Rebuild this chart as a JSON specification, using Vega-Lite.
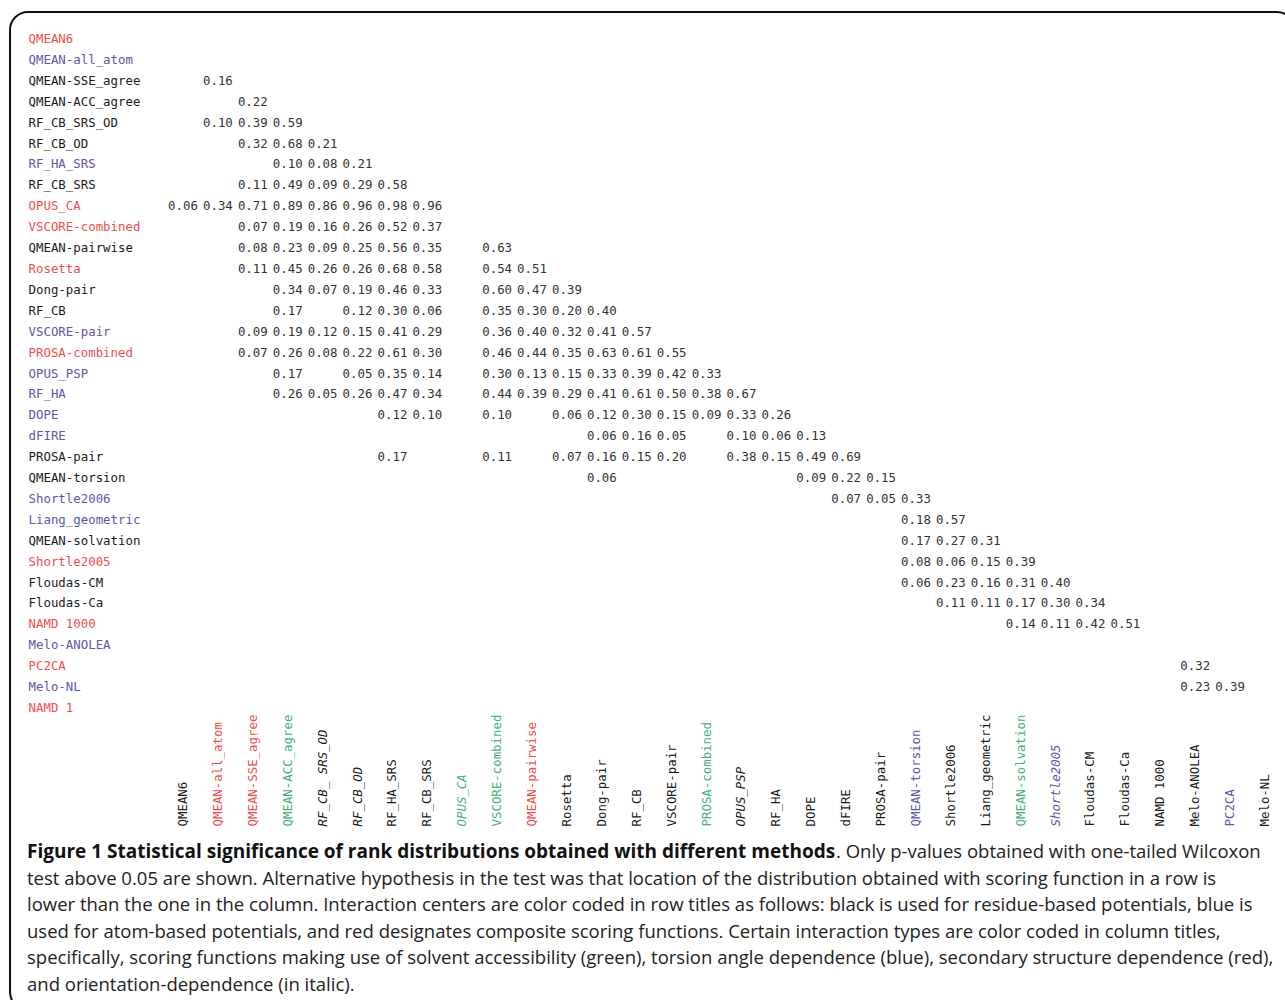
{
  "$schema": "https://vega.github.io/schema/vega-lite/v6.json",
  "width": 1285,
  "height": 998,
  "autosize": {"type": "none"},
  "padding": {"left": 10, "top": 12, "right": -10, "bottom": -10},
  "background": "white",
  "config": {
    "view": {"stroke": "#111111", "strokeWidth": 2, "cornerRadius": 18, "fill": "white"},
    "axis": {"grid": false, "domain": false, "ticks": false, "tickSize": 0}
  },
  "datasets": {
    "pv": [
      {"r": "QMEAN-SSE_agree", "c": "QMEAN-all_atom", "p": 0.16},
      {"r": "QMEAN-ACC_agree", "c": "QMEAN-SSE_agree", "p": 0.22},
      {"r": "RF_CB_SRS_OD", "c": "QMEAN-all_atom", "p": 0.10},
      {"r": "RF_CB_SRS_OD", "c": "QMEAN-SSE_agree", "p": 0.39},
      {"r": "RF_CB_SRS_OD", "c": "QMEAN-ACC_agree", "p": 0.59},
      {"r": "RF_CB_OD", "c": "QMEAN-SSE_agree", "p": 0.32},
      {"r": "RF_CB_OD", "c": "QMEAN-ACC_agree", "p": 0.68},
      {"r": "RF_CB_OD", "c": "RF_CB_SRS_OD", "p": 0.21},
      {"r": "RF_HA_SRS", "c": "QMEAN-ACC_agree", "p": 0.10},
      {"r": "RF_HA_SRS", "c": "RF_CB_SRS_OD", "p": 0.08},
      {"r": "RF_HA_SRS", "c": "RF_CB_OD", "p": 0.21},
      {"r": "RF_CB_SRS", "c": "QMEAN-SSE_agree", "p": 0.11},
      {"r": "RF_CB_SRS", "c": "QMEAN-ACC_agree", "p": 0.49},
      {"r": "RF_CB_SRS", "c": "RF_CB_SRS_OD", "p": 0.09},
      {"r": "RF_CB_SRS", "c": "RF_CB_OD", "p": 0.29},
      {"r": "RF_CB_SRS", "c": "RF_HA_SRS", "p": 0.58},
      {"r": "OPUS_CA", "c": "QMEAN6", "p": 0.06},
      {"r": "OPUS_CA", "c": "QMEAN-all_atom", "p": 0.34},
      {"r": "OPUS_CA", "c": "QMEAN-SSE_agree", "p": 0.71},
      {"r": "OPUS_CA", "c": "QMEAN-ACC_agree", "p": 0.89},
      {"r": "OPUS_CA", "c": "RF_CB_SRS_OD", "p": 0.86},
      {"r": "OPUS_CA", "c": "RF_CB_OD", "p": 0.96},
      {"r": "OPUS_CA", "c": "RF_HA_SRS", "p": 0.98},
      {"r": "OPUS_CA", "c": "RF_CB_SRS", "p": 0.96},
      {"r": "VSCORE-combined", "c": "QMEAN-SSE_agree", "p": 0.07},
      {"r": "VSCORE-combined", "c": "QMEAN-ACC_agree", "p": 0.19},
      {"r": "VSCORE-combined", "c": "RF_CB_SRS_OD", "p": 0.16},
      {"r": "VSCORE-combined", "c": "RF_CB_OD", "p": 0.26},
      {"r": "VSCORE-combined", "c": "RF_HA_SRS", "p": 0.52},
      {"r": "VSCORE-combined", "c": "RF_CB_SRS", "p": 0.37},
      {"r": "QMEAN-pairwise", "c": "QMEAN-SSE_agree", "p": 0.08},
      {"r": "QMEAN-pairwise", "c": "QMEAN-ACC_agree", "p": 0.23},
      {"r": "QMEAN-pairwise", "c": "RF_CB_SRS_OD", "p": 0.09},
      {"r": "QMEAN-pairwise", "c": "RF_CB_OD", "p": 0.25},
      {"r": "QMEAN-pairwise", "c": "RF_HA_SRS", "p": 0.56},
      {"r": "QMEAN-pairwise", "c": "RF_CB_SRS", "p": 0.35},
      {"r": "QMEAN-pairwise", "c": "VSCORE-combined", "p": 0.63},
      {"r": "Rosetta", "c": "QMEAN-SSE_agree", "p": 0.11},
      {"r": "Rosetta", "c": "QMEAN-ACC_agree", "p": 0.45},
      {"r": "Rosetta", "c": "RF_CB_SRS_OD", "p": 0.26},
      {"r": "Rosetta", "c": "RF_CB_OD", "p": 0.26},
      {"r": "Rosetta", "c": "RF_HA_SRS", "p": 0.68},
      {"r": "Rosetta", "c": "RF_CB_SRS", "p": 0.58},
      {"r": "Rosetta", "c": "VSCORE-combined", "p": 0.54},
      {"r": "Rosetta", "c": "QMEAN-pairwise", "p": 0.51},
      {"r": "Dong-pair", "c": "QMEAN-ACC_agree", "p": 0.34},
      {"r": "Dong-pair", "c": "RF_CB_SRS_OD", "p": 0.07},
      {"r": "Dong-pair", "c": "RF_CB_OD", "p": 0.19},
      {"r": "Dong-pair", "c": "RF_HA_SRS", "p": 0.46},
      {"r": "Dong-pair", "c": "RF_CB_SRS", "p": 0.33},
      {"r": "Dong-pair", "c": "VSCORE-combined", "p": 0.60},
      {"r": "Dong-pair", "c": "QMEAN-pairwise", "p": 0.47},
      {"r": "Dong-pair", "c": "Rosetta", "p": 0.39},
      {"r": "RF_CB", "c": "QMEAN-ACC_agree", "p": 0.17},
      {"r": "RF_CB", "c": "RF_CB_OD", "p": 0.12},
      {"r": "RF_CB", "c": "RF_HA_SRS", "p": 0.30},
      {"r": "RF_CB", "c": "RF_CB_SRS", "p": 0.06},
      {"r": "RF_CB", "c": "VSCORE-combined", "p": 0.35},
      {"r": "RF_CB", "c": "QMEAN-pairwise", "p": 0.30},
      {"r": "RF_CB", "c": "Rosetta", "p": 0.20},
      {"r": "RF_CB", "c": "Dong-pair", "p": 0.40},
      {"r": "VSCORE-pair", "c": "QMEAN-SSE_agree", "p": 0.09},
      {"r": "VSCORE-pair", "c": "QMEAN-ACC_agree", "p": 0.19},
      {"r": "VSCORE-pair", "c": "RF_CB_SRS_OD", "p": 0.12},
      {"r": "VSCORE-pair", "c": "RF_CB_OD", "p": 0.15},
      {"r": "VSCORE-pair", "c": "RF_HA_SRS", "p": 0.41},
      {"r": "VSCORE-pair", "c": "RF_CB_SRS", "p": 0.29},
      {"r": "VSCORE-pair", "c": "VSCORE-combined", "p": 0.36},
      {"r": "VSCORE-pair", "c": "QMEAN-pairwise", "p": 0.40},
      {"r": "VSCORE-pair", "c": "Rosetta", "p": 0.32},
      {"r": "VSCORE-pair", "c": "Dong-pair", "p": 0.41},
      {"r": "VSCORE-pair", "c": "RF_CB", "p": 0.57},
      {"r": "PROSA-combined", "c": "QMEAN-SSE_agree", "p": 0.07},
      {"r": "PROSA-combined", "c": "QMEAN-ACC_agree", "p": 0.26},
      {"r": "PROSA-combined", "c": "RF_CB_SRS_OD", "p": 0.08},
      {"r": "PROSA-combined", "c": "RF_CB_OD", "p": 0.22},
      {"r": "PROSA-combined", "c": "RF_HA_SRS", "p": 0.61},
      {"r": "PROSA-combined", "c": "RF_CB_SRS", "p": 0.30},
      {"r": "PROSA-combined", "c": "VSCORE-combined", "p": 0.46},
      {"r": "PROSA-combined", "c": "QMEAN-pairwise", "p": 0.44},
      {"r": "PROSA-combined", "c": "Rosetta", "p": 0.35},
      {"r": "PROSA-combined", "c": "Dong-pair", "p": 0.63},
      {"r": "PROSA-combined", "c": "RF_CB", "p": 0.61},
      {"r": "PROSA-combined", "c": "VSCORE-pair", "p": 0.55},
      {"r": "OPUS_PSP", "c": "QMEAN-ACC_agree", "p": 0.17},
      {"r": "OPUS_PSP", "c": "RF_CB_OD", "p": 0.05},
      {"r": "OPUS_PSP", "c": "RF_HA_SRS", "p": 0.35},
      {"r": "OPUS_PSP", "c": "RF_CB_SRS", "p": 0.14},
      {"r": "OPUS_PSP", "c": "VSCORE-combined", "p": 0.30},
      {"r": "OPUS_PSP", "c": "QMEAN-pairwise", "p": 0.13},
      {"r": "OPUS_PSP", "c": "Rosetta", "p": 0.15},
      {"r": "OPUS_PSP", "c": "Dong-pair", "p": 0.33},
      {"r": "OPUS_PSP", "c": "RF_CB", "p": 0.39},
      {"r": "OPUS_PSP", "c": "VSCORE-pair", "p": 0.42},
      {"r": "OPUS_PSP", "c": "PROSA-combined", "p": 0.33},
      {"r": "RF_HA", "c": "QMEAN-ACC_agree", "p": 0.26},
      {"r": "RF_HA", "c": "RF_CB_SRS_OD", "p": 0.05},
      {"r": "RF_HA", "c": "RF_CB_OD", "p": 0.26},
      {"r": "RF_HA", "c": "RF_HA_SRS", "p": 0.47},
      {"r": "RF_HA", "c": "RF_CB_SRS", "p": 0.34},
      {"r": "RF_HA", "c": "VSCORE-combined", "p": 0.44},
      {"r": "RF_HA", "c": "QMEAN-pairwise", "p": 0.39},
      {"r": "RF_HA", "c": "Rosetta", "p": 0.29},
      {"r": "RF_HA", "c": "Dong-pair", "p": 0.41},
      {"r": "RF_HA", "c": "RF_CB", "p": 0.61},
      {"r": "RF_HA", "c": "VSCORE-pair", "p": 0.50},
      {"r": "RF_HA", "c": "PROSA-combined", "p": 0.38},
      {"r": "RF_HA", "c": "OPUS_PSP", "p": 0.67},
      {"r": "DOPE", "c": "RF_HA_SRS", "p": 0.12},
      {"r": "DOPE", "c": "RF_CB_SRS", "p": 0.10},
      {"r": "DOPE", "c": "VSCORE-combined", "p": 0.10},
      {"r": "DOPE", "c": "Rosetta", "p": 0.06},
      {"r": "DOPE", "c": "Dong-pair", "p": 0.12},
      {"r": "DOPE", "c": "RF_CB", "p": 0.30},
      {"r": "DOPE", "c": "VSCORE-pair", "p": 0.15},
      {"r": "DOPE", "c": "PROSA-combined", "p": 0.09},
      {"r": "DOPE", "c": "OPUS_PSP", "p": 0.33},
      {"r": "DOPE", "c": "RF_HA", "p": 0.26},
      {"r": "dFIRE", "c": "Dong-pair", "p": 0.06},
      {"r": "dFIRE", "c": "RF_CB", "p": 0.16},
      {"r": "dFIRE", "c": "VSCORE-pair", "p": 0.05},
      {"r": "dFIRE", "c": "OPUS_PSP", "p": 0.10},
      {"r": "dFIRE", "c": "RF_HA", "p": 0.06},
      {"r": "dFIRE", "c": "DOPE", "p": 0.13},
      {"r": "PROSA-pair", "c": "RF_HA_SRS", "p": 0.17},
      {"r": "PROSA-pair", "c": "VSCORE-combined", "p": 0.11},
      {"r": "PROSA-pair", "c": "Rosetta", "p": 0.07},
      {"r": "PROSA-pair", "c": "Dong-pair", "p": 0.16},
      {"r": "PROSA-pair", "c": "RF_CB", "p": 0.15},
      {"r": "PROSA-pair", "c": "VSCORE-pair", "p": 0.20},
      {"r": "PROSA-pair", "c": "OPUS_PSP", "p": 0.38},
      {"r": "PROSA-pair", "c": "RF_HA", "p": 0.15},
      {"r": "PROSA-pair", "c": "DOPE", "p": 0.49},
      {"r": "PROSA-pair", "c": "dFIRE", "p": 0.69},
      {"r": "QMEAN-torsion", "c": "Dong-pair", "p": 0.06},
      {"r": "QMEAN-torsion", "c": "DOPE", "p": 0.09},
      {"r": "QMEAN-torsion", "c": "dFIRE", "p": 0.22},
      {"r": "QMEAN-torsion", "c": "PROSA-pair", "p": 0.15},
      {"r": "Shortle2006", "c": "dFIRE", "p": 0.07},
      {"r": "Shortle2006", "c": "PROSA-pair", "p": 0.05},
      {"r": "Shortle2006", "c": "QMEAN-torsion", "p": 0.33},
      {"r": "Liang_geometric", "c": "QMEAN-torsion", "p": 0.18},
      {"r": "Liang_geometric", "c": "Shortle2006", "p": 0.57},
      {"r": "QMEAN-solvation", "c": "QMEAN-torsion", "p": 0.17},
      {"r": "QMEAN-solvation", "c": "Shortle2006", "p": 0.27},
      {"r": "QMEAN-solvation", "c": "Liang_geometric", "p": 0.31},
      {"r": "Shortle2005", "c": "QMEAN-torsion", "p": 0.08},
      {"r": "Shortle2005", "c": "Shortle2006", "p": 0.06},
      {"r": "Shortle2005", "c": "Liang_geometric", "p": 0.15},
      {"r": "Shortle2005", "c": "QMEAN-solvation", "p": 0.39},
      {"r": "Floudas-CM", "c": "QMEAN-torsion", "p": 0.06},
      {"r": "Floudas-CM", "c": "Shortle2006", "p": 0.23},
      {"r": "Floudas-CM", "c": "Liang_geometric", "p": 0.16},
      {"r": "Floudas-CM", "c": "QMEAN-solvation", "p": 0.31},
      {"r": "Floudas-CM", "c": "Shortle2005", "p": 0.40},
      {"r": "Floudas-Ca", "c": "Shortle2006", "p": 0.11},
      {"r": "Floudas-Ca", "c": "Liang_geometric", "p": 0.11},
      {"r": "Floudas-Ca", "c": "QMEAN-solvation", "p": 0.17},
      {"r": "Floudas-Ca", "c": "Shortle2005", "p": 0.30},
      {"r": "Floudas-Ca", "c": "Floudas-CM", "p": 0.34},
      {"r": "NAMD 1000", "c": "QMEAN-solvation", "p": 0.14},
      {"r": "NAMD 1000", "c": "Shortle2005", "p": 0.11},
      {"r": "NAMD 1000", "c": "Floudas-CM", "p": 0.42},
      {"r": "NAMD 1000", "c": "Floudas-Ca", "p": 0.51},
      {"r": "PC2CA", "c": "Melo-ANOLEA", "p": 0.32},
      {"r": "Melo-NL", "c": "Melo-ANOLEA", "p": 0.23},
      {"r": "Melo-NL", "c": "PC2CA", "p": 0.39}
    ],
    "caption": [
      {"line": 1, "part": "bold", "text": "Figure 1 Statistical significance of rank distributions obtained with different methods"},
      {"line": 1, "part": "tail", "text": ". Only p-values obtained with one-tailed Wilcoxon"},
      {"line": 2, "part": "body", "text": "test above 0.05 are shown. Alternative hypothesis in the test was that location of the distribution obtained with scoring function in a row is"},
      {"line": 3, "part": "body", "text": "lower than the one in the column. Interaction centers are color coded in row titles as follows: black is used for residue-based potentials, blue is"},
      {"line": 4, "part": "body", "text": "used for atom-based potentials, and red designates composite scoring functions. Certain interaction types are color coded in column titles,"},
      {"line": 5, "part": "body", "text": "specifically, scoring functions making use of solvent accessibility (green), torsion angle dependence (blue), secondary structure dependence (red),"},
      {"line": 6, "part": "body", "text": "and orientation-dependence (in italic)."}
    ]
  },
  "layer": [
    {
      "data": {"name": "pv"},
      "mark": {"type": "text", "font": "DejaVu Sans Mono", "fontSize": 12.4, "color": "#333333", "baseline": "middle", "align": "center"},
      "encoding": {
        "x": {
          "field": "c", "type": "nominal",
          "scale": {"type": "band", "range": [155.55, 1272.45], "paddingInner": 0, "paddingOuter": 0,
            "domain": ["QMEAN6","QMEAN-all_atom","QMEAN-SSE_agree","QMEAN-ACC_agree","RF_CB_SRS_OD","RF_CB_OD","RF_HA_SRS","RF_CB_SRS","OPUS_CA","VSCORE-combined","QMEAN-pairwise","Rosetta","Dong-pair","RF_CB","VSCORE-pair","PROSA-combined","OPUS_PSP","RF_HA","DOPE","dFIRE","PROSA-pair","QMEAN-torsion","Shortle2006","Liang_geometric","QMEAN-solvation","Shortle2005","Floudas-CM","Floudas-Ca","NAMD 1000","Melo-ANOLEA","PC2CA","Melo-NL"]},
          "axis": {
            "orient": "top", "title": null, "offset": -814, "labelAngle": -90, "labelAlign": "left", "labelBaseline": "middle",
            "labelPadding": 0, "labelFont": "DejaVu Sans Mono", "labelFontSize": 12.4, "labelOverlap": false, "labelLimit": 0,
            "labelExpr": "datum.value == 'RF_CB_SRS_OD' ? 'RF_CB_ SRS_OD' : datum.label",
            "labelColor": {
              "condition": [
                {"test": "indexof(['QMEAN-all_atom','QMEAN-SSE_agree','QMEAN-pairwise'], datum.value) >= 0", "value": "#f04e4a"},
                {"test": "indexof(['QMEAN-ACC_agree','OPUS_CA','VSCORE-combined','PROSA-combined','QMEAN-solvation'], datum.value) >= 0", "value": "#45b083"},
                {"test": "indexof(['QMEAN-torsion','Shortle2005','PC2CA'], datum.value) >= 0", "value": "#5e56b0"}
              ],
              "value": "#1a1a1a"
            },
            "labelFontStyle": {
              "condition": {"test": "indexof(['RF_CB_SRS_OD','RF_CB_OD','OPUS_CA','OPUS_PSP','Shortle2005'], datum.value) >= 0", "value": "italic"},
              "value": "normal"
            }
          }
        },
        "y": {
          "field": "r", "type": "nominal",
          "scale": {"type": "band", "range": [16.55, 706.45], "paddingInner": 0, "paddingOuter": 0,
            "domain": ["QMEAN6","QMEAN-all_atom","QMEAN-SSE_agree","QMEAN-ACC_agree","RF_CB_SRS_OD","RF_CB_OD","RF_HA_SRS","RF_CB_SRS","OPUS_CA","VSCORE-combined","QMEAN-pairwise","Rosetta","Dong-pair","RF_CB","VSCORE-pair","PROSA-combined","OPUS_PSP","RF_HA","DOPE","dFIRE","PROSA-pair","QMEAN-torsion","Shortle2006","Liang_geometric","QMEAN-solvation","Shortle2005","Floudas-CM","Floudas-Ca","NAMD 1000","Melo-ANOLEA","PC2CA","Melo-NL","NAMD 1"]},
          "axis": {
            "orient": "left", "title": null, "offset": -18, "labelAlign": "left", "labelBaseline": "middle", "labelPadding": 0,
            "labelFont": "DejaVu Sans Mono", "labelFontSize": 12.4, "labelOverlap": false, "labelLimit": 0,
            "labelColor": {
              "condition": [
                {"test": "indexof(['QMEAN6','OPUS_CA','VSCORE-combined','Rosetta','PROSA-combined','Shortle2005','NAMD 1000','PC2CA','NAMD 1'], datum.value) >= 0", "value": "#f04e4a"},
                {"test": "indexof(['QMEAN-all_atom','RF_HA_SRS','VSCORE-pair','OPUS_PSP','RF_HA','DOPE','dFIRE','Shortle2006','Liang_geometric','Melo-ANOLEA','Melo-NL'], datum.value) >= 0", "value": "#5e56b0"}
              ],
              "value": "#1a1a1a"
            }
          }
        },
        "text": {"field": "p", "type": "quantitative", "format": ".2f"}
      }
    },
    {
      "data": {"name": "caption"},
      "transform": [{"filter": "datum.part == 'bold'"}],
      "mark": {"type": "text", "font": "Open Sans", "fontSize": 19, "fontWeight": "bold", "color": "#111111", "align": "left", "baseline": "middle"},
      "encoding": {
        "x": {"value": 17},
        "y": {"field": "line", "type": "quantitative", "scale": {"domain": [1, 6], "range": [840, 973]}, "axis": null},
        "text": {"field": "text", "type": "nominal"}
      }
    },
    {
      "data": {"name": "caption"},
      "transform": [{"filter": "datum.part == 'tail'"}],
      "mark": {"type": "text", "font": "Open Sans", "fontSize": 18.5, "color": "#222222", "align": "left", "baseline": "middle"},
      "encoding": {
        "x": {"value": 826},
        "y": {"field": "line", "type": "quantitative", "scale": {"domain": [1, 6], "range": [840, 973]}, "axis": null},
        "text": {"field": "text", "type": "nominal"}
      }
    },
    {
      "data": {"name": "caption"},
      "transform": [{"filter": "datum.part == 'body'"}],
      "mark": {"type": "text", "font": "Open Sans", "fontSize": 18.5, "color": "#222222", "align": "left", "baseline": "middle"},
      "encoding": {
        "x": {"value": 17},
        "y": {"field": "line", "type": "quantitative", "scale": {"domain": [1, 6], "range": [840, 973]}, "axis": null},
        "text": {"field": "text", "type": "nominal"}
      }
    }
  ],
  "resolve": {"scale": {"y": "independent"}}
}
